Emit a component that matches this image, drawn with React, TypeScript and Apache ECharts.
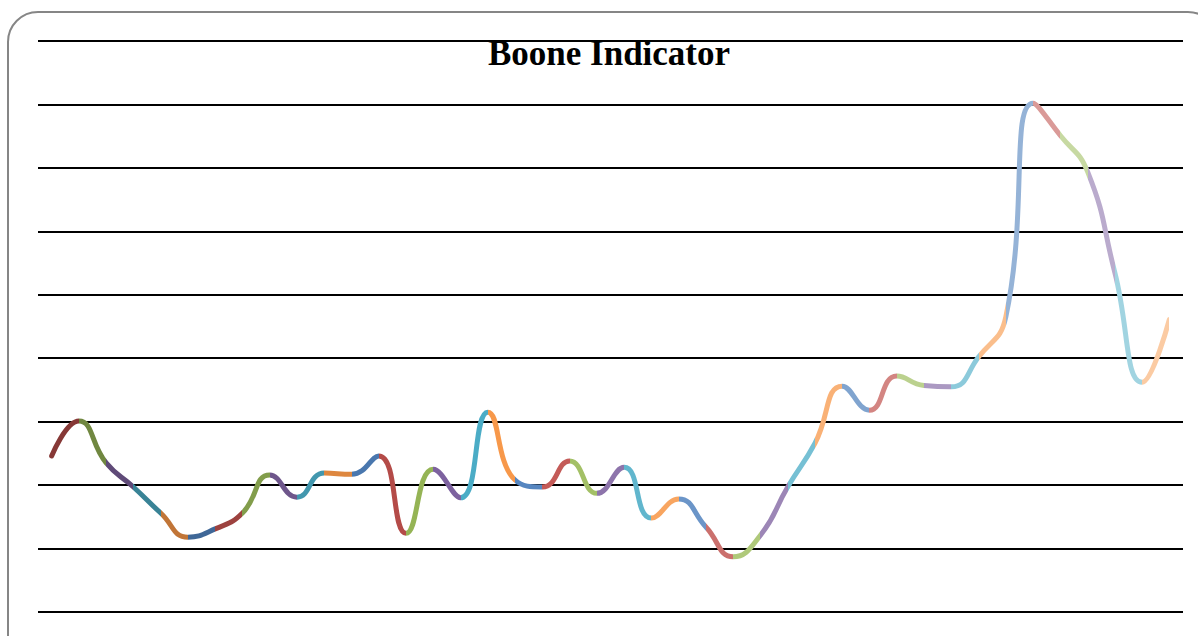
import React, { useEffect, useRef } from "react";
import * as echarts from "echarts";

const titleText = "Boone Indicator";

const periods = [
  "P1", "P2", "P3", "P4", "P5", "P6", "P7", "P8", "P9", "P10",
  "P11", "P12", "P13", "P14", "P15", "P16", "P17", "P18", "P19", "P20",
  "P21", "P22", "P23", "P24", "P25", "P26", "P27", "P28", "P29", "P30",
  "P31", "P32", "P33", "P34", "P35", "P36", "P37", "P38", "P39", "P40",
  "P41", "P42",
];

const booneValues = [
  2.46, 3.01, 2.35, 1.97, 1.56, 1.18, 1.31, 1.56, 2.16, 1.81,
  2.19, 2.17, 2.46, 1.24, 2.25, 1.80, 3.15, 2.08, 1.97, 2.38,
  1.87, 2.28, 1.48, 1.78, 1.34, 0.87, 1.21, 1.97, 2.66, 3.56,
  3.18, 3.72, 3.57, 3.55, 4.02, 4.65, 8.02, 7.51, 6.94, 5.35,
  3.62, 4.61,
];

const yMin = 0;
const yMax = 9;
const yInterval = 1;

// Office palette used for "vary colours by point"
const basePalette = ["#4F81BD", "#C0504D", "#9BBB59", "#8064A2", "#4BACC6", "#F79646"];

function shade(hex: string, t: number): string {
  const n = parseInt(hex.slice(1), 16);
  const ch = [(n >> 16) & 255, (n >> 8) & 255, n & 255].map((c) =>
    Math.round(t < 0 ? c * (1 + t) : c + (255 - c) * t)
  );
  return "rgb(" + ch.join(",") + ")";
}

function pointColor(p: number, count: number): string {
  const t = -0.3 + ((p - 1) * 0.8) / Math.max(1, count - 2);
  return shade(basePalette[p % basePalette.length], t);
}

export default function App() {
  const ref = useRef<HTMLDivElement>(null);

  useEffect(() => {
    document.body.style.margin = "0";
    if (!ref.current) return;
    const chart = echarts.init(ref.current, undefined, { renderer: "svg" });

    const pieces: any[] = [];
    pieces.push({ lte: 0, color: pointColor(1, booneValues.length) });
    for (let p = 1; p < booneValues.length; p++) {
      pieces.push({ gt: p - 1, lte: p, color: pointColor(p, booneValues.length) });
    }

    chart.setOption({
      animation: false,
      backgroundColor: "#ffffff",
      title: {
        text: titleText,
        left: 604,
        textAlign: "center",
        top: 31,
        textStyle: {
          fontFamily: "'Liberation Serif', 'Times New Roman', serif",
          fontWeight: "bold",
          fontSize: 35,
          color: "#000000",
        },
      },
      graphic: [
        {
          type: "rect",
          shape: { x: 8, y: 12, width: 1210, height: 660, r: 30 },
          style: { fill: "none", stroke: "#868686", lineWidth: 2 },
          z: -1,
          silent: true,
        },
      ],
      grid: { left: 38, right: 15, top: 41, bottom: 24 },
      xAxis: {
        type: "category",
        data: periods,
        boundaryGap: true,
        axisLine: { show: false },
        axisTick: { show: false },
        axisLabel: { show: false },
        splitLine: { show: false },
      },
      yAxis: {
        type: "value",
        min: yMin,
        max: yMax,
        interval: yInterval,
        axisLine: { show: false },
        axisTick: { show: false },
        axisLabel: { show: false },
        splitLine: { show: true, lineStyle: { color: "#000000", width: 2 } },
      },
      visualMap: {
        show: false,
        type: "piecewise",
        dimension: 0,
        seriesIndex: 0,
        pieces,
      },
      series: [
        {
          type: "line",
          data: booneValues,
          smooth: 0.5,
          showSymbol: false,
          symbol: "none",
          lineStyle: { width: 5, cap: "round", join: "round" },
        },
      ],
    });

    return () => chart.dispose();
  }, []);

  return <div ref={ref} style={{ width: 1198, height: 636 }} />;
}
